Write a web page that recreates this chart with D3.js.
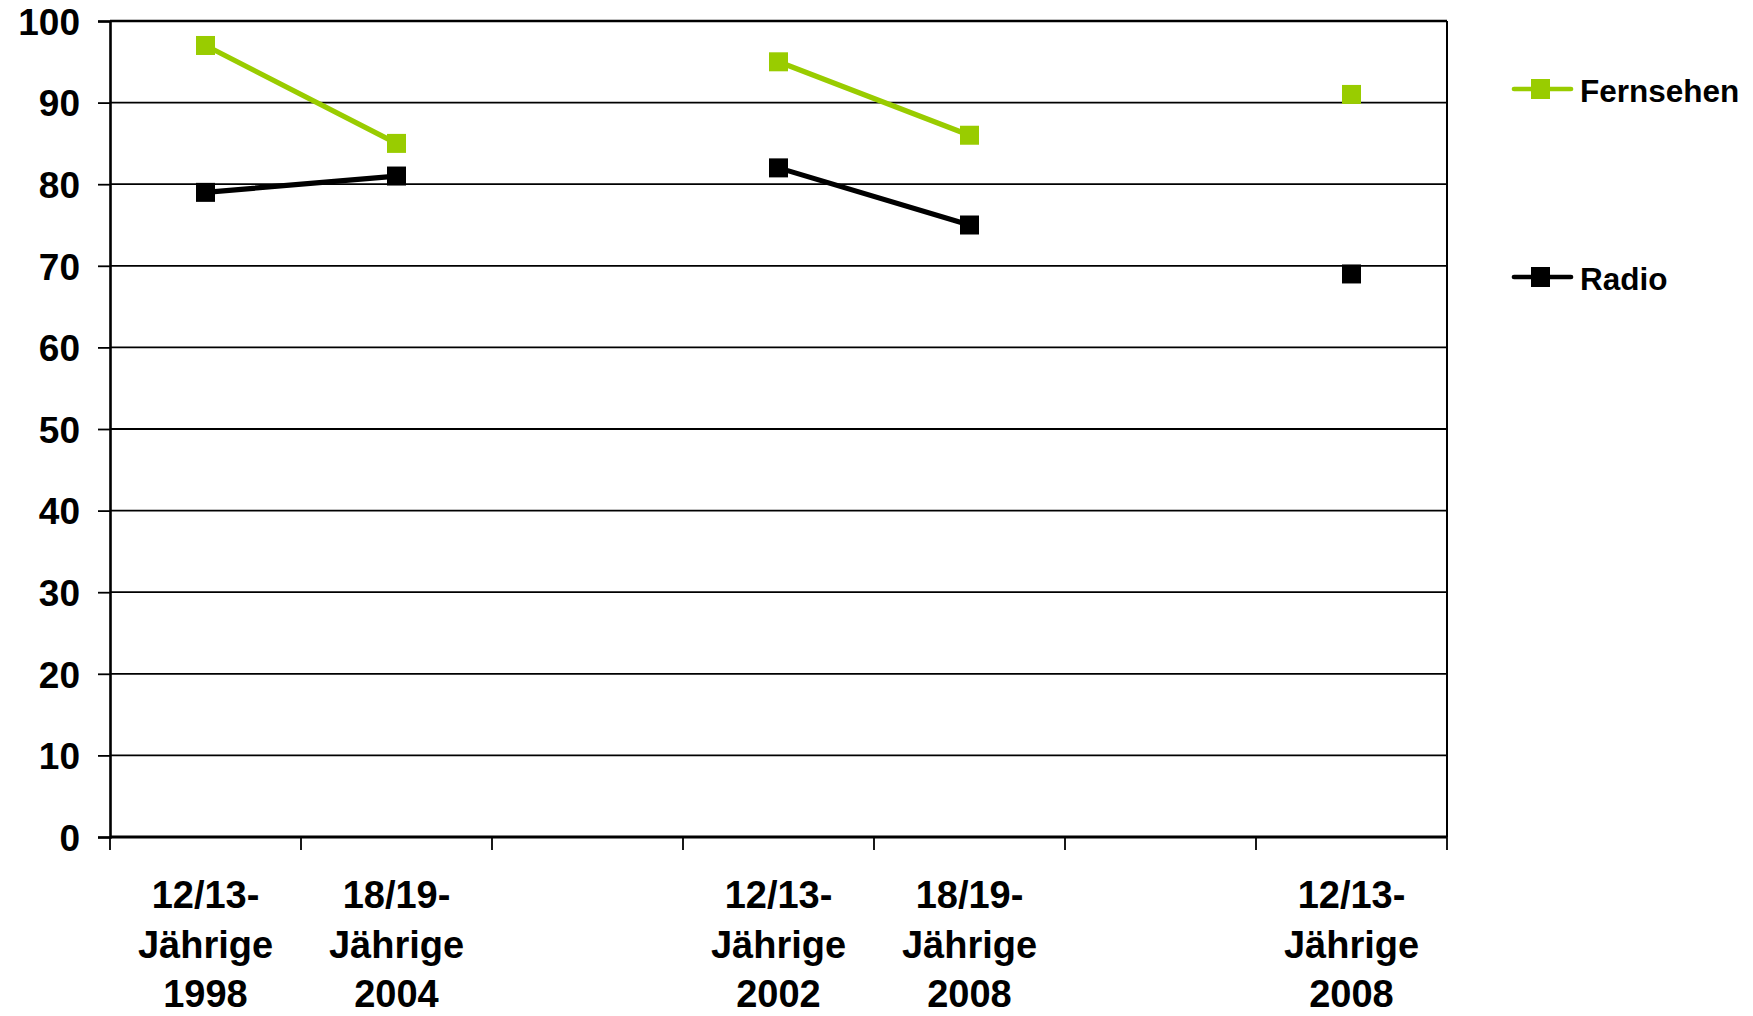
<!DOCTYPE html>
<html>
<head>
<meta charset="utf-8">
<script src="https://cdn.jsdelivr.net/npm/d3@7"></script>
<style>
  html, body { margin: 0; padding: 0; background: #fff; }
  svg { display: block; font-family: "Liberation Sans", Arial, sans-serif; font-weight: bold; }
</style>
</head>
<body>
<svg id="chart" width="1753" height="1016"></svg>
<script>
// ---- data ----
const categories = [
  "12/13-|Jährige|1998",
  "18/19-|Jährige|2004",
  "",
  "12/13-|Jährige|2002",
  "18/19-|Jährige|2008",
  "",
  "12/13-|Jährige|2008"
];
const fernsehen = [97, 85, null, 95, 86, null, 91];
const radio     = [79, 81, null, 82, 75, null, 69];
const yTicks = [0, 10, 20, 30, 40, 50, 60, 70, 80, 90, 100];
const seriesNames = ["Fernsehen", "Radio"];
const seriesColors = ["#99CC00", "#000000"];

// ---- layout ----
const svg = d3.select("#chart");
const pLeft = 110, pRight = 1447, pTop = 21, pBottom = 837;

const x = d3.scaleBand().domain(d3.range(categories.length)).range([pLeft, pRight]).padding(0);
const y = d3.scaleLinear().domain([0, 100]).range([pBottom, pTop]);

// gridlines
svg.append("g").selectAll("line")
  .data(yTicks.filter(t => t > 0 && t < 100))
  .join("line")
  .attr("x1", pLeft).attr("x2", pRight)
  .attr("y1", d => y(d)).attr("y2", d => y(d))
  .attr("stroke", "#000").attr("stroke-width", 1.8);

// frame top and right
svg.append("line").attr("x1", pLeft).attr("x2", pRight).attr("y1", y(100)).attr("y2", y(100))
  .attr("stroke", "#000").attr("stroke-width", 2.6);
svg.append("line").attr("x1", pRight).attr("x2", pRight).attr("y1", y(100)).attr("y2", y(0))
  .attr("stroke", "#000").attr("stroke-width", 2);

// y axis
const yAxis = svg.append("g").attr("transform", `translate(${pLeft},0)`)
  .call(d3.axisLeft(y).tickValues(yTicks).tickSize(12).tickPadding(18).tickFormat(d3.format("d")));
yAxis.select(".domain").attr("stroke", "#000").attr("stroke-width", 2.6);
yAxis.selectAll(".tick line").attr("stroke", "#000").attr("stroke-width", 1.8);
yAxis.selectAll(".tick text")
  .attr("font-family", "'Liberation Sans', Arial, sans-serif")
  .attr("font-weight", "bold").attr("font-size", 37).attr("fill", "#000")
  .attr("dy", "0.36em");

// x axis
const xBoundaries = d3.range(categories.length + 1).map(i => pLeft + i * x.step());
const xAxisG = svg.append("g");
xAxisG.append("line").attr("x1", pLeft).attr("x2", pRight).attr("y1", pBottom).attr("y2", pBottom)
  .attr("stroke", "#000").attr("stroke-width", 3);
xAxisG.selectAll("line.tk").data(xBoundaries).join("line").attr("class", "tk")
  .attr("x1", d => d).attr("x2", d => d).attr("y1", pBottom).attr("y2", pBottom + 13)
  .attr("stroke", "#000").attr("stroke-width", 1.8);

const labels = svg.append("g").selectAll("text")
  .data(categories.map((c, i) => ({ c, i })).filter(d => d.c))
  .join("text")
  .attr("text-anchor", "middle")
  .attr("font-size", 38)
  .attr("fill", "#000");
labels.each(function(d) {
  const t = d3.select(this);
  d.c.split("|").forEach((ln, k) => {
    t.append("tspan").attr("x", x(d.i) + x.bandwidth() / 2).attr("y", 908 + k * 49.5).text(ln);
  });
});

// series
const series = [fernsehen, radio];
const line = d3.line()
  .defined(d => d != null)
  .x((d, i) => x(i) + x.bandwidth() / 2)
  .y(d => y(d));

series.forEach((vals, s) => {
  svg.append("path").datum(vals)
    .attr("d", line)
    .attr("fill", "none")
    .attr("stroke", seriesColors[s])
    .attr("stroke-width", 5.2);
  const ms = 19;
  svg.append("g").selectAll("rect")
    .data(vals.map((v, i) => ({ v, i })).filter(d => d.v != null))
    .join("rect")
    .attr("x", d => x(d.i) + x.bandwidth() / 2 - ms / 2)
    .attr("y", d => y(d.v) - ms / 2)
    .attr("width", ms).attr("height", ms)
    .attr("fill", seriesColors[s]);
});

// legend
const legendY = [89, 277];
const lg = svg.append("g");
seriesNames.forEach((name, s) => {
  const ly = legendY[s];
  lg.append("line").attr("x1", 1514).attr("x2", 1571).attr("y1", ly).attr("y2", ly)
    .attr("stroke", seriesColors[s]).attr("stroke-width", 4.7).attr("stroke-linecap", "round");
  lg.append("rect").attr("x", 1531).attr("y", ly - 10).attr("width", 19).attr("height", 20)
    .attr("fill", seriesColors[s]);
  lg.append("text").attr("x", 1580).attr("y", ly + 12.5)
    .attr("font-size", 31.5).attr("fill", "#000").text(name);
});
</script>
</body>
</html>
